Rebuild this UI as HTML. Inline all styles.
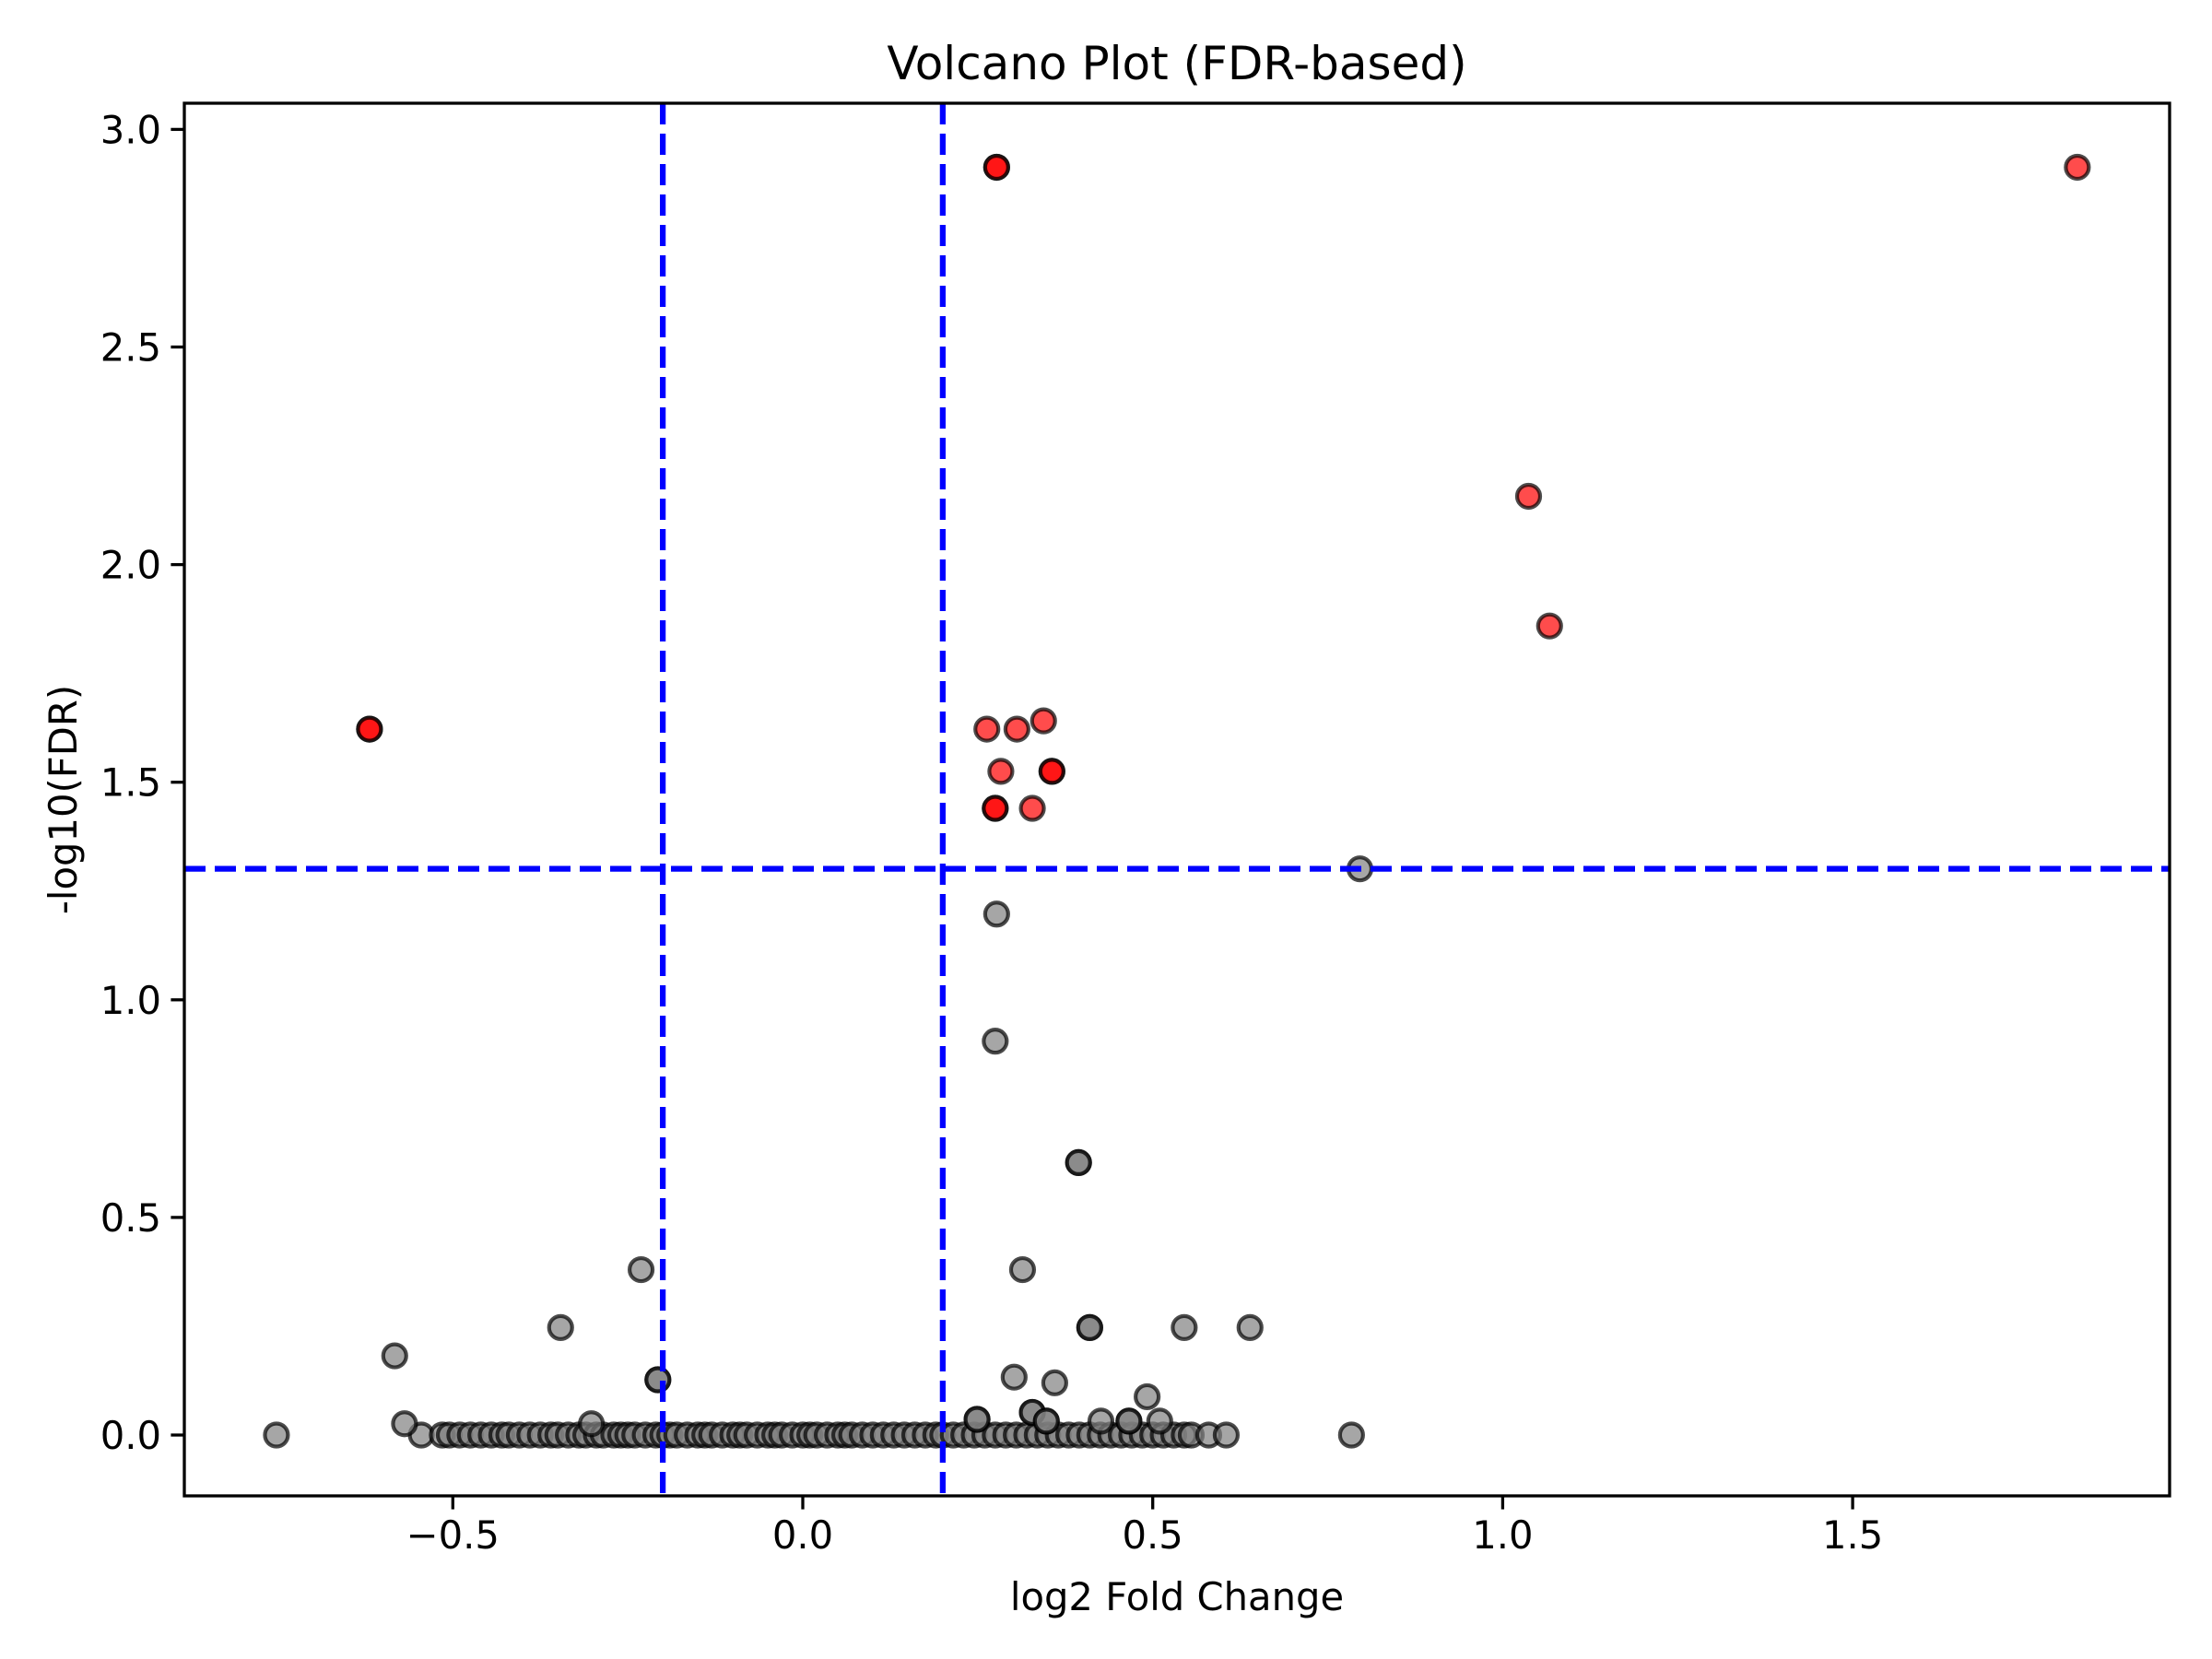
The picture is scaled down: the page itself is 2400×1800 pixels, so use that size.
<!DOCTYPE html>
<html><head><meta charset="utf-8"><style>
html,body{margin:0;padding:0;background:#fff}
svg{display:block;font-family:"DejaVu Sans","Liberation Sans",sans-serif}
</style></head><body>
<svg id="chart" width="2400" height="1800" viewBox="0 0 2400 1800">
<rect x="0" y="0" width="2400" height="1800" fill="#fff"/>
<g id="marks"></g>
<g id="axes"></g>
</svg>
<script>
const sigX=[0.277,0.277,1.821,1.037,1.067,-0.619,-0.619,0.263,0.306,0.344,0.283,0.356,0.356,0.275,0.275,0.328];
const sigY=[2.913,2.913,2.913,2.157,1.859,1.622,1.622,1.622,1.622,1.641,1.525,1.525,1.525,1.440,1.440,1.440];
const nsX=[0.796,0.277,0.275,0.394,0.394,-0.231,0.314,-0.346,0.410,0.410,0.545,0.639,-0.583,-0.207,-0.207,0.302,0.360,0.492,-0.569,-0.302,0.249,0.249,0.328,0.328,0.348,0.348,0.426,0.466,0.466,0.510,-0.752,0.784];
const nsY=[1.301,1.197,0.905,0.626,0.626,0.380,0.380,0.247,0.247,0.247,0.247,0.247,0.182,0.127,0.127,0.133,0.120,0.088,0.026,0.026,0.036,0.036,0.052,0.052,0.032,0.032,0.032,0.032,0.032,0.032,0,0];
const zeroX=[-0.545,-0.515,-0.505,-0.49,-0.475,-0.46,-0.445,-0.43,-0.42,-0.405,-0.39,-0.375,-0.36,-0.35,-0.335,-0.32,-0.31,-0.295,-0.285,-0.27,-0.26,-0.25,-0.24,-0.225,-0.21,-0.2,-0.19,-0.18,-0.165,-0.15,-0.14,-0.13,-0.115,-0.1,-0.09,-0.08,-0.065,-0.05,-0.04,-0.03,-0.015,0,0.01,0.02,0.035,0.05,0.06,0.07,0.085,0.1,0.115,0.13,0.145,0.16,0.175,0.19,0.2,0.215,0.23,0.245,0.26,0.275,0.29,0.305,0.32,0.335,0.35,0.365,0.38,0.395,0.41,0.425,0.44,0.455,0.47,0.485,0.5,0.515,0.53,0.545,0.555,0.58,0.605];
const xTicks=[-0.5,0,0.5,1.0,1.5];
const xTickLabels=["\u22120.5","0.0","0.5","1.0","1.5"];
const yTicks=[0,0.5,1.0,1.5,2.0,2.5,3.0];
const yTickLabels=["0.0","0.5","1.0","1.5","2.0","2.5","3.0"];
const fcThresh=[-0.2,0.2];
const fdrThresh=[1.301];

const L=200,R=2354,T=112,B=1623;
const sx=v=>871+v*759.4;
const sy=v=>1557-v*472.2;
const NS="http://www.w3.org/2000/svg";
const marks=document.getElementById('marks'), axes=document.getElementById('axes');
function mk(tag,attrs,parent){const e=document.createElementNS(NS,tag);for(const k in attrs)e.setAttribute(k,attrs[k]);parent.appendChild(e);return e;}
function dot(x,y,fill,name){
  const c=mk('circle',{cx:sx(x),cy:sy(y),r:12.5,fill:fill,'fill-opacity':0.7,stroke:'#000','stroke-opacity':0.7,'stroke-width':4.2},marks);
  
  
}
zeroX.forEach(x=>dot(x,0,'#808080','nonsig-point'));
nsX.forEach((x,i)=>dot(x,nsY[i],'#808080','nonsig-point'));
sigX.forEach((x,i)=>dot(x,sigY[i],'#ff0000','sig-point'));
fcThresh.forEach(v=>{
  const l=mk('line',{x1:sx(v),x2:sx(v),y1:T,y2:B,stroke:'#0000ff','stroke-width':6.25,'stroke-dasharray':'23 10'},marks);
  
  
});
fdrThresh.forEach(v=>{
  const l=mk('line',{x1:L,x2:R,y1:sy(v),y2:sy(v),stroke:'#0000ff','stroke-width':6.25,'stroke-dasharray':'23 10'},marks);
  
  
});
const fr=mk('rect',{x:L,y:T,width:R-L,height:B-T,fill:'none',stroke:'#000','stroke-width':3.3},axes);


xTicks.forEach((v,i)=>{
  mk('line',{x1:sx(v),x2:sx(v),y1:B,y2:B+14.6,stroke:'#000','stroke-width':3.3},axes);
  const t=mk('text',{x:sx(v),y:B+57,'font-size':41.7,'text-anchor':'middle'},axes);
  t.textContent=xTickLabels[i];
  
  
});
yTicks.forEach((v,i)=>{
  mk('line',{x1:L,x2:L-14.6,y1:sy(v),y2:sy(v),stroke:'#000','stroke-width':3.3},axes);
  const t=mk('text',{x:L-25,y:sy(v)+15,'font-size':41.7,'text-anchor':'end'},axes);
  t.textContent=yTickLabels[i];
  
  
});
let t=mk('text',{x:(L+R)/2,y:86,'font-size':50,'text-anchor':'middle'},axes);
t.textContent='Volcano Plot (FDR-based)';


t=mk('text',{x:(L+R)/2,y:1747,'font-size':41.7,'text-anchor':'middle'},axes);
t.textContent='log2 Fold Change';


t=mk('text',{x:83,y:(T+B)/2,'font-size':41.7,'text-anchor':'middle',transform:'rotate(-90 83 '+((T+B)/2)+')'},axes);
t.textContent='-log10(FDR)';


</script>
</body></html>
